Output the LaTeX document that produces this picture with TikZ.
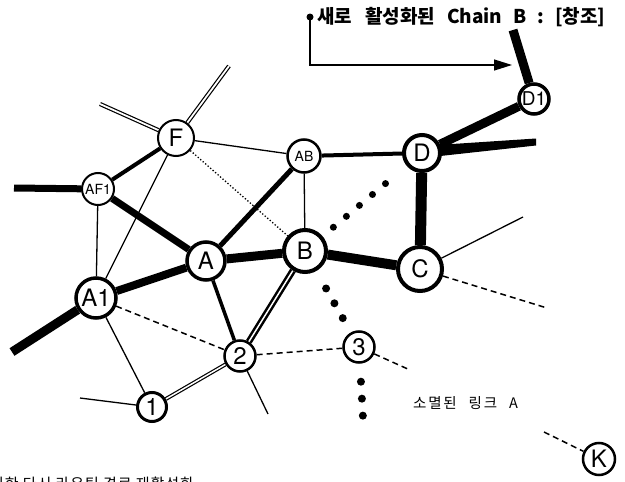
\documentclass[tikz,border=0pt]{standalone}
\usepackage{fontspec}
\setmainfont{TeX Gyre Heros}
\newfontfamily\kr{Noto Sans CJK KR}
\newfontfamily\krcap[LetterSpace=12]{Noto Sans CJK KR}
\newfontfamily\krfoot[LetterSpace=6]{Noto Sans CJK KR}
\usetikzlibrary{arrows.meta,backgrounds}

\tikzset{
  nd/.style={circle, draw=black, fill=white, inner sep=0pt},
  big/.style={font=\fontsize{24}{24}\selectfont},
  small/.style={font=\fontsize{14}{14}\selectfont},
  thin/.style={line width=1.3pt},
  heavy/.style={line width=#1},
  dbl/.style={line width=1.2pt, double=white, double distance=#1},
  dashline/.style={line width=1.5pt, dash pattern=on 6pt off 4pt},
  bigdots/.style={line width=#1, line cap=round, dash pattern=on 0pt off 17pt}
}

\begin{document}
\begin{tikzpicture}[x=1pt,y=-1pt]
\useasboundingbox (0,0) rectangle (625,482);

% nodes
\node[nd, big, minimum size=40pt, line width=3.5pt] (A1) at (96,298) {A1};
\node[nd, small, minimum size=32pt, line width=2pt] (AF1) at (98,189) {AF1};
\node[nd, big, minimum size=36pt, line width=2pt] (F) at (176,138) {F};
\node[nd, small, minimum size=33pt, line width=2.5pt] (AB) at (304,156) {AB};
\node[nd, big, minimum size=38pt, line width=3.5pt] (A) at (206,261) {A};
\node[nd, big, minimum size=42pt, line width=4pt] (B) at (305,251) {B};
\node[nd, big, minimum size=44pt, line width=4pt] (C) at (420,269) {C};
\node[nd, big, minimum size=36pt, line width=4pt] (D) at (422,153) {D};
\node[nd, font=\fontsize{19}{19}\selectfont, minimum size=30pt, line width=3.5pt] (D1) at (534,99) {D1};
\node[nd, big, minimum size=29pt, line width=3pt] (n1) at (152,407) {1};
\node[nd, big, minimum size=31pt, line width=2.5pt] (n2) at (240,356) {2};
\node[nd, big, minimum size=31pt, line width=2.5pt] (n3) at (359,347) {3};
\node[nd, big, minimum size=32pt, line width=2.5pt] (K) at (599,459) {K};

% free ends
\coordinate (a1t) at (12,352);
\coordinate (af1t) at (14,188);
\coordinate (fl) at (100,104);
\coordinate (fr) at (229,66);
\coordinate (n1t) at (80,398);
\coordinate (n2t) at (268,414);
\coordinate (ct) at (523,217);
\coordinate (cd) at (547,308);
\coordinate (dr) at (536,142);
\coordinate (d1t) at (513,30);
\coordinate (n3d) at (410,370);
\coordinate (kd) at (544,432);
\coordinate (n3e) at (363,418);
\coordinate (src) at (310,17);
\coordinate (bend) at (310,65);
\coordinate (tip) at (512,65);

\begin{scope}[on background layer]
  % heavy links
  \draw[heavy=9pt] (A1) -- (a1t);
  \draw[heavy=8pt] (A1) -- (A);
  \draw[heavy=7pt] (AF1) -- (A);
  \draw[heavy=7pt] (AF1) -- (af1t);
  \draw[heavy=4pt] (AF1) -- (F);
  \draw[heavy=5pt] (A) -- (AB);
  \draw[heavy=9pt] (A) -- (B);
  \draw[heavy=10pt] (B) -- (C);
  \draw[heavy=11pt] (C) -- (D);
  \draw[heavy=4pt] (AB) -- (D);
  \draw[heavy=9pt] (D) -- (D1);
  \draw[heavy=9pt] (D1) -- (d1t);
  % tapering spur to the right of D
  \fill ([yshift=7pt]D.center) -- ([yshift=3.5pt]dr) -- ([yshift=-3.5pt]dr) -- ([yshift=-5pt]D.center) -- cycle;
  \draw[heavy=3.5pt] (A) -- (n2);
  % double links
  \draw[dbl=1.5pt, line width=2.5pt] (B) -- (n2);
  \draw[dbl=1.5pt] (n1) -- (n2);
  \draw[dbl=1.8pt] (F) -- (fl);
  \draw[dbl=1.8pt] (F) -- (fr);
  % thin links
  \draw[thin] (AF1) -- (A1);
  \draw[thin] (F) -- (A1);
  \draw[thin] (F) -- (AB);
  \draw[thin] (AB) -- (B);
  \draw[thin] (A1) -- (n1);
  \draw[thin] (n1) -- (n1t);
  \draw[thin] (n2) -- (n2t);
  \draw[thin] (C) -- (ct);
  \draw[line width=1.3pt, dotted] (F) -- (B);
  % dashed links
  \draw[dashline] (A1) -- (n2);
  \draw[dashline] (n2) -- (n3);
  \draw[dashline] (C) -- (cd);
  \draw[dashline] (n3) -- (n3d);
  \draw[dashline] (kd) -- (K);
  % rows of big dots
  \draw[bigdots=7pt, shorten <=14pt, shorten >=12pt] (B) -- (D);
  \draw[bigdots=8pt, shorten <=20pt] (B) -- (n3);
  \draw[bigdots=8pt, shorten <=18pt] (n3) -- (n3e);
\end{scope}

% pointer to the newly activated chain
\fill (src) circle (3.5pt);
\draw[line width=1.3pt, -{Triangle[length=18pt,width=11pt]}] (src) -- (bend) -- (tip);
\node[anchor=west, font=\kr\bfseries\fontsize{19}{19}\selectfont, inner sep=0pt] (title) at (317,17)
  {새로\hspace{13pt}활성화된\hspace{12pt}Chain\hspace{11pt}B\hspace{11pt}:\hspace{11pt}[창조]};

% captions
\node[anchor=west, font=\krcap\fontsize{14.5}{14.5}\selectfont, inner sep=0pt] (lost) at (413,403)
  {소멸된\hspace{12pt}링크\hspace{12pt}A};
\node[anchor=base west, font=\krfoot\fontsize{15}{15}\selectfont, inner sep=0pt] (foot) at (-10,489) {의한 다시 라우팅 경로 재활성화};
\end{tikzpicture}
\end{document}
